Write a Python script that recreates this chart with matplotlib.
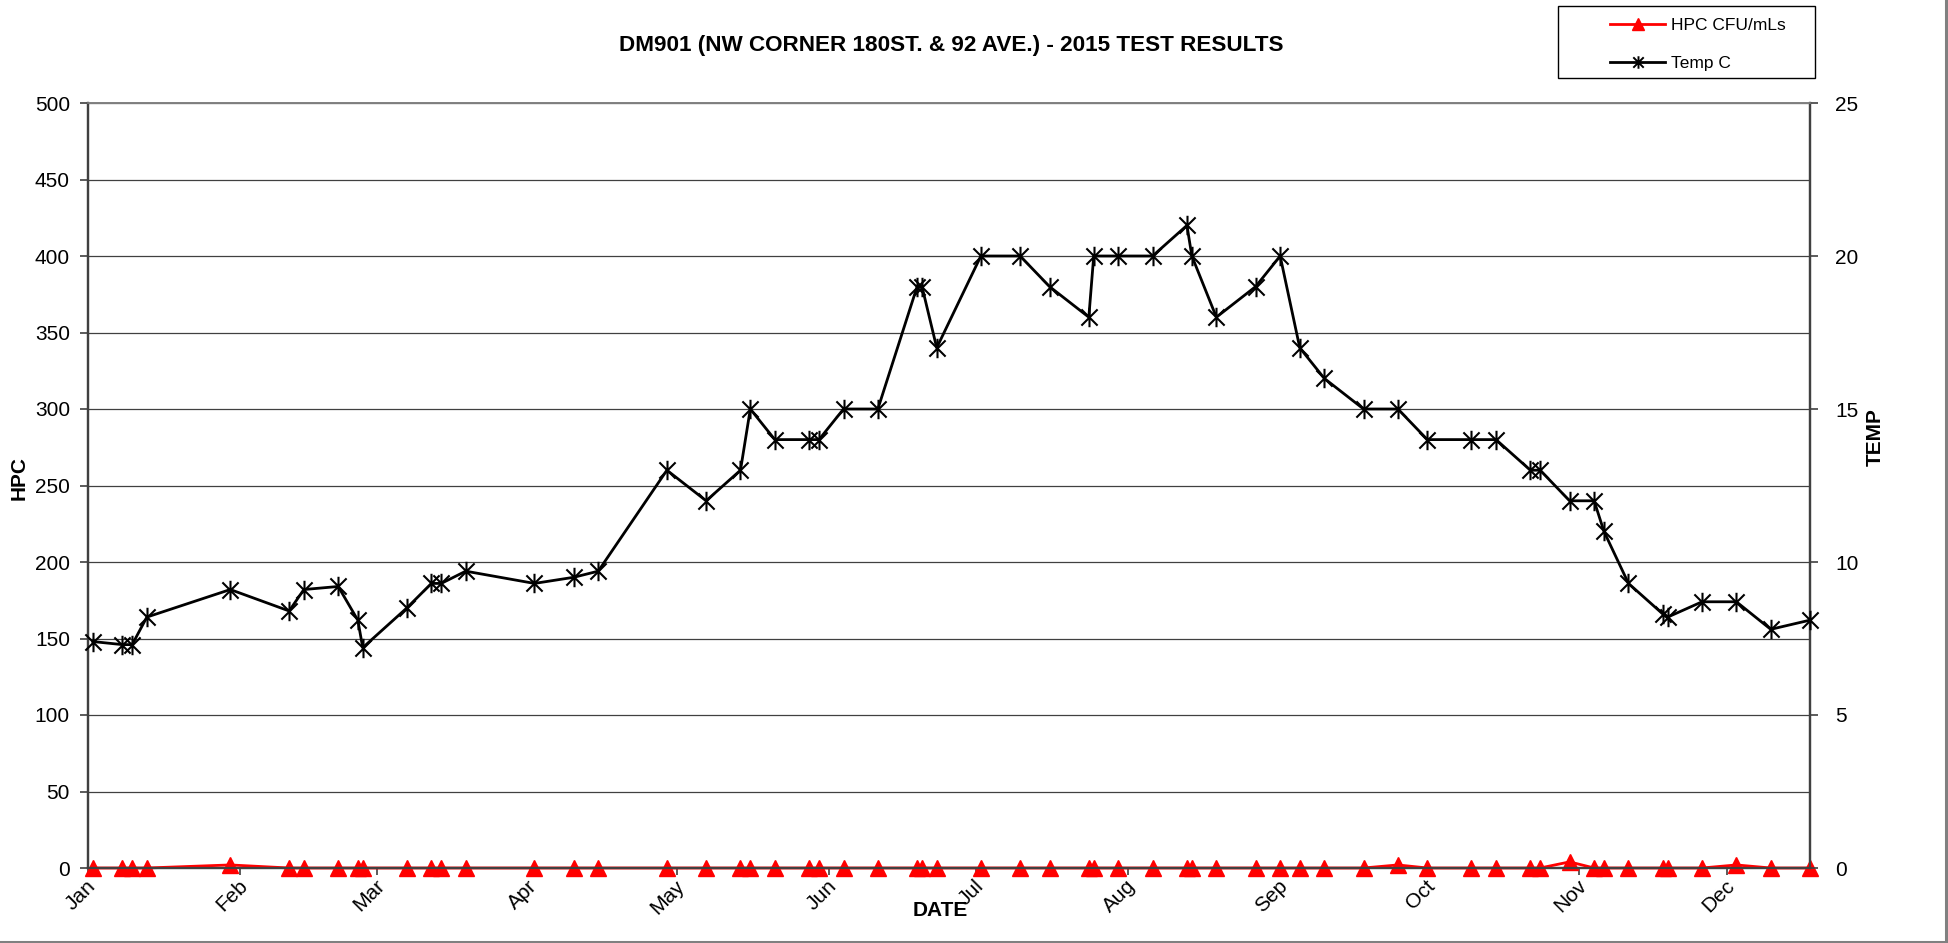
import datetime as dt

import matplotlib
import matplotlib.dates as mdates
import matplotlib.pyplot as plt
from matplotlib.lines import Line2D
from matplotlib.patches import Rectangle
from matplotlib.path import Path
from matplotlib.transforms import ScaledTranslation

matplotlib.use("Agg")
plt.rcParams["font.family"] = ["Liberation Sans", "DejaVu Sans"]

# sample dates (2015) as MM-DD
sample_dates = [
    "01-02", "01-08", "01-10", "01-13", "01-30", "02-11", "02-14", "02-21",
    "02-25", "02-26", "03-07", "03-12", "03-14", "03-19", "04-02", "04-10",
    "04-15", "04-29", "05-07", "05-14", "05-16", "05-21", "05-28", "05-30",
    "06-04", "06-11", "06-19", "06-20", "06-23", "07-02", "07-10", "07-16",
    "07-24", "07-25", "07-30", "08-06", "08-13", "08-14", "08-19", "08-27",
    "09-01", "09-05", "09-10", "09-18", "09-25", "10-01", "10-10", "10-15",
    "10-22", "10-24", "10-30", "11-04", "11-06", "11-11", "11-18", "11-19",
    "11-26", "12-03", "12-10", "12-18",
]
hpc_cfu = [
    0, 0, 0, 0, 2, 0, 0, 0, 0, 0, 0, 0, 0, 0, 0, 0, 0, 0, 0, 0,
    0, 0, 0, 0, 0, 0, 0, 0, 0, 0, 0, 0, 0, 0, 0, 0, 0, 0, 0, 0,
    0, 0, 0, 0, 2, 0, 0, 0, 0, 0, 4, 0, 0, 0, 0, 0, 0, 2, 0, 0,
]
temp_c = [
    7.4, 7.3, 7.3, 8.2, 9.1, 8.4, 9.1, 9.2, 8.1, 7.2,
    8.5, 9.3, 9.3, 9.7, 9.3, 9.5, 9.7, 13, 12, 13,
    15, 14, 14, 14, 15, 15, 19, 19, 17, 20,
    20, 19, 18, 20, 20, 20, 21, 20, 18, 19,
    20, 17, 16, 15, 15, 14, 14, 14, 13, 13,
    12, 12, 11, 9.3, 8.3, 8.2, 8.7, 8.7, 7.8, 8.1,
]
month_labels = ["Jan", "Feb", "Mar", "Apr", "May", "Jun",
                "Jul", "Aug", "Sep", "Oct", "Nov", "Dec"]
hpc_ticks = list(range(0, 501, 50))
temp_ticks = list(range(0, 26, 5))

dates = [dt.datetime.strptime("2015-" + d, "%Y-%m-%d") for d in sample_dates]
month_starts = [dt.datetime(2015, m, 1) for m in range(1, 13)]

W, H = 1948, 943
fig = plt.figure(figsize=(W / 100, H / 100), dpi=100)
ax = fig.add_axes([88 / W, (H - 868) / H, (1810 - 88) / W, (868 - 103) / H])
ax2 = ax.twinx()

# excel style star: X with a vertical bar
star = Path(
    [(-1, -1), (1, 1), (-1, 1), (1, -1), (0, -1.2), (0, 1.2)],
    [Path.MOVETO, Path.LINETO, Path.MOVETO, Path.LINETO, Path.MOVETO, Path.LINETO],
)

ax.plot(dates, hpc_cfu, color="#ff0000", lw=2.0, marker="^", ms=12,
        mfc="#ff0000", mec="#ff0000", clip_on=False, zorder=5)
ax2.plot(dates, temp_c, color="black", lw=2.0, marker=star, ms=14,
         mfc="none", mec="black", mew=1.5, clip_on=False, zorder=5)

ax.set_xlim(dt.datetime(2015, 1, 1), dt.datetime(2015, 12, 18))
ax.set_ylim(0, 500)
ax2.set_ylim(0, 25)
ax.set_yticks(hpc_ticks)
ax2.set_yticks(temp_ticks)

ax.xaxis.set_major_locator(matplotlib.ticker.FixedLocator(mdates.date2num(month_starts)))
ax.xaxis.set_major_formatter(matplotlib.ticker.FixedFormatter(month_labels))

ax.yaxis.grid(True, color="#404040", lw=0.9)
ax.set_axisbelow(True)

for a in (ax, ax2):
    a.tick_params(labelsize=15, direction="out", length=6, width=1.2, color="#404040")
    for side in ("left", "right", "bottom"):
        a.spines[side].set_color("#404040")
        a.spines[side].set_linewidth(1.6)
    a.spines["top"].set_color("#808080")
    a.spines["top"].set_linewidth(1.2)
ax.tick_params(axis="x", pad=1, length=5)
ax.tick_params(axis="y", pad=7)
ax2.tick_params(axis="y", pad=12)

shift = ScaledTranslation(-2 / 100, 0, fig.dpi_scale_trans)
for lab in ax.get_xticklabels():
    lab.set_rotation(45)
    lab.set_rotation_mode("anchor")
    lab.set_ha("right")
    lab.set_va("top")
    lab.set_transform(lab.get_transform() + shift)

ax.set_ylabel("HPC", fontsize=15, fontweight="bold", va="center")
ax.yaxis.set_label_coords(-0.040, 0.51)
ax2.set_ylabel("TEMP", fontsize=15, fontweight="bold", va="center")
ax2.yaxis.set_label_coords(1.038, 0.563)
ax.set_xlabel("DATE", fontsize=15, fontweight="bold", va="center")
ax.xaxis.set_label_coords(0.495, -0.056)

fig.text(951 / W, 1 - 46 / H, "DM901 (NW CORNER 180ST. & 92 AVE.) - 2015 TEST RESULTS",
         ha="center", va="center", fontsize=16.2, fontweight="bold")

# legend box
fig.patches.append(Rectangle((1558 / W, 1 - 78 / H), (1815 - 1558) / W, 72 / H,
                             transform=fig.transFigure, fill=False,
                             edgecolor="black", lw=1.0))
handles = [
    Line2D([], [], color="#ff0000", lw=2, marker="^", ms=8, mfc="#ff0000", mec="#ff0000"),
    Line2D([], [], color="black", lw=2, marker=star, ms=9, mfc="none", mec="black", mew=1.4),
]
fig.legend(handles, ["HPC CFU/mLs", "Temp C"], loc="upper left",
           bbox_to_anchor=(1596 / W, 1 - 4 / H), frameon=False, fontsize=12.5,
           handlelength=3.2, handletextpad=0.3, labelspacing=1.3, borderpad=0.3)

# outer chart border (right and bottom visible)
fig.patches.append(Rectangle((-0.01, 1.5 / H), 1946 / W + 0.01, 1.02,
                             transform=fig.transFigure, fill=False,
                             edgecolor="#808080", lw=2.2))

fig.savefig("out.png", dpi=100)
